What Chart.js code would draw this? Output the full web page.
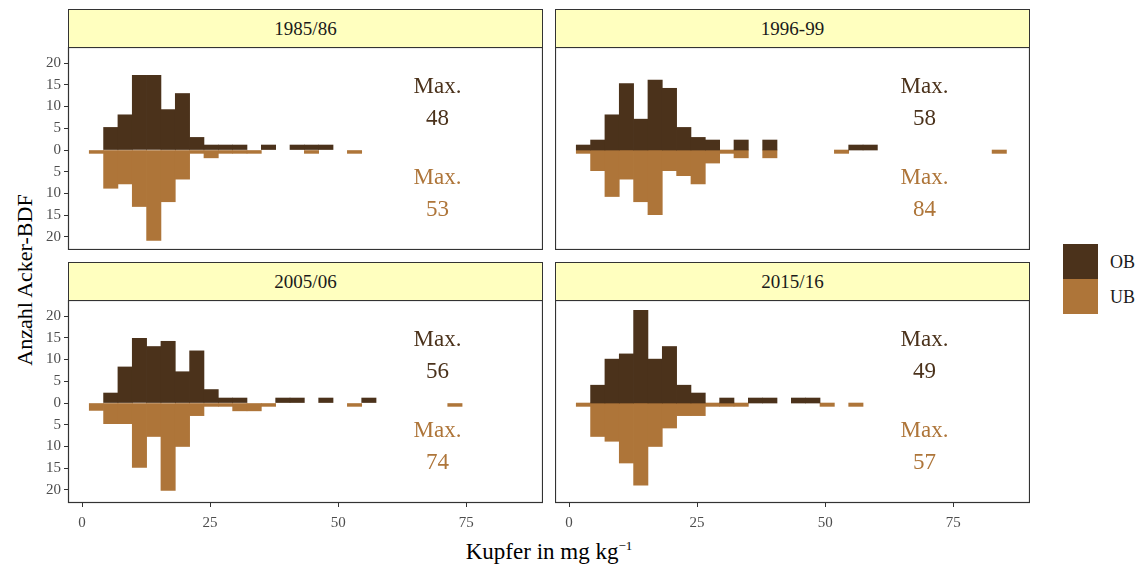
<!DOCTYPE html>
<html>
<head>
<meta charset="utf-8">
<script src="https://cdn.jsdelivr.net/npm/chart.js@4.4.1/dist/chart.umd.min.js"></script>
<style>
  html, body { margin: 0; padding: 0; background: #ffffff; }
  body { width: 1145px; height: 568px; position: relative; overflow: hidden; font-family: "Liberation Serif", "DejaVu Serif", serif; }
  canvas { position: absolute; }
  .strip { position: absolute; box-sizing: border-box; border: 1px solid #333333; background: #FFFFBF;
           color: #1a1a1a; font-size: 19px; display: flex; align-items: center; justify-content: center; }
  .ytitle { position: absolute; left: 25px; top: 280px; transform: translate(-50%, -50%) rotate(-90deg);
            white-space: nowrap; font-size: 22px; color: #000; }
  .xtitle { position: absolute; left: 549px; top: 551px; transform: translate(-50%, -50%);
            white-space: nowrap; font-size: 23px; color: #000; }
  .xtitle sup { font-size: 13px; vertical-align: 9px; }
  .key { position: absolute; left: 1063px; width: 35px; height: 35px; }
  .keylab { position: absolute; left: 1110px; font-size: 18px; color: #1a1a1a; transform: translateY(-50%); }
</style>
</head>
<body>
<div class="ytitle">Anzahl Acker-BDF</div>
<div class="xtitle">Kupfer in mg kg<sup>−1</sup></div>
<div class="key" style="top:244px; background:#4B321B;"></div>
<div class="key" style="top:279px; background:#AE7539;"></div>
<div class="keylab" style="top:262px;">OB</div>
<div class="keylab" style="top:297px;">UB</div>

<script>
// Histogram bin centres (mg/kg), shared by all four survey periods
const binCenters = [2.8, 5.6, 8.4, 11.2, 14.0, 16.8, 19.6, 22.4, 25.2, 28.0,
                    30.8, 33.6, 36.4, 39.2, 42.0, 44.8, 47.6, 50.4, 53.2, 56.0,
                    58.8, 61.6, 64.4, 67.2, 70.0, 72.8, 75.6, 78.4, 81.2, 84.0];

const periods = ["1985/86", "1996-99", "2005/06", "2015/16"];

// Oberboden (OB) counts per bin
const ob1985 = [0, 5.2, 8.1, 17.2, 17.2, 9.3, 13.0, 2.9, 1.15, 1.15, 1.15, 0, 1.15, 0, 1.15, 1.15, 1.15, 0, 0, 0, 0, 0, 0, 0, 0, 0, 0, 0, 0, 0];
const ob1996 = [1.15, 2.3, 8.1, 15.3, 7.1, 16.1, 14.2, 5.2, 2.9, 2.3, 0, 2.3, 0, 2.3, 0, 0, 0, 0, 0, 1.15, 1.15, 0, 0, 0, 0, 0, 0, 0, 0, 0];
const ob2005 = [0, 2.3, 8.3, 14.9, 13.0, 14.2, 7.2, 12.0, 3.1, 1.15, 1.15, 0, 0, 1.15, 1.15, 0, 1.15, 0, 0, 1.15, 0, 0, 0, 0, 0, 0, 0, 0, 0, 0];
const ob2015 = [0, 4.1, 10.1, 11.3, 21.3, 10.1, 13.0, 4.1, 2.3, 0, 1.15, 0, 1.15, 1.15, 0, 1.15, 1.15, 0, 0, 0, 0, 0, 0, 0, 0, 0, 0, 0, 0, 0];

// Unterboden (UB) counts per bin (drawn downwards)
const ub1985 = [0.77, 8.8, 7.8, 13.0, 20.8, 11.9, 6.7, 0.77, 1.8, 0.77, 0.77, 0.77, 0, 0, 0, 0.77, 0, 0, 0.77, 0, 0, 0, 0, 0, 0, 0, 0, 0, 0, 0];
const ub1996 = [0.77, 4.75, 10.7, 6.7, 11.9, 14.9, 4.75, 5.9, 7.8, 3.0, 0.77, 1.8, 0, 1.8, 0, 0, 0, 0, 0.77, 0, 0, 0, 0, 0, 0, 0, 0, 0, 0, 0.77];
const ub2005 = [1.7, 4.75, 4.75, 14.8, 7.7, 20.1, 10.0, 2.9, 0.77, 0.77, 1.8, 1.8, 0.77, 0, 0, 0, 0, 0, 0.77, 0, 0, 0, 0, 0, 0, 0.77, 0, 0, 0, 0];
const ub2015 = [0.77, 7.7, 8.8, 13.8, 18.9, 10.0, 5.75, 2.9, 2.9, 0.77, 0.77, 0.77, 0, 0, 0, 0, 0, 0.77, 0, 0.77, 0, 0, 0, 0, 0, 0, 0, 0, 0, 0];

// Maximum copper content per period
const maxOB = [48, 58, 56, 49];
const maxUB = [53, 84, 74, 57];

const xTicks = [0, 25, 50, 75];
const yTicks = [-20, -15, -10, -5, 0, 5, 10, 15, 20];

const OB_COLOR = "#4B321B";
const UB_COLOR = "#AE7539";
const TICK_COLOR = "#4D4D4D";
const FONT = "Liberation Serif";

const PANEL_W = 475, PANEL_H = 203, STRIP_H = 38;
const Y_AXIS_W = 38, X_AXIS_H = 32;

const layout = [
  { ob: ob1985, ub: ub1985, left: 68,  top: 47,  yAxis: true,  xAxis: false },
  { ob: ob1996, ub: ub1996, left: 555, top: 47,  yAxis: false, xAxis: false },
  { ob: ob2005, ub: ub2005, left: 68,  top: 300, yAxis: true,  xAxis: true  },
  { ob: ob2015, ub: ub2015, left: 555, top: 300, yAxis: false, xAxis: true  }
];

// Panel frame around the plotting area
const framePlugin = {
  id: "frame",
  afterDatasetsDraw(chart) {
    const a = chart.chartArea, ctx = chart.ctx;
    ctx.save();
    ctx.strokeStyle = "#333333";
    ctx.lineWidth = 1.2;
    ctx.strokeRect(Math.round(a.left) + 0.5, Math.round(a.top) + 0.5,
                   Math.round(a.right - a.left) - 1, Math.round(a.bottom - a.top) - 1);
    ctx.restore();
  }
};

// "Max." annotations for OB (above) and UB (below)
const maxPlugin = {
  id: "maxLabels",
  afterDatasetsDraw(chart, args, opts) {
    const ctx = chart.ctx, xs = chart.scales.x, ys = chart.scales.y;
    const x = xs.getPixelForValue(69.4);
    const blocks = [
      { y: ys.getPixelForValue(10.9), color: OB_COLOR, value: opts.ob },
      { y: ys.getPixelForValue(-10.0), color: UB_COLOR, value: opts.ub }
    ];
    ctx.save();
    ctx.font = "23px '" + FONT + "'";
    ctx.textAlign = "center";
    ctx.textBaseline = "middle";
    for (const b of blocks) {
      ctx.fillStyle = b.color;
      ctx.fillText("Max.", x, b.y - 16);
      ctx.fillText(String(b.value), x, b.y + 16);
    }
    ctx.restore();
  }
};

// empty bins are left out instead of drawn as zero-height bars
const toPoints = (vals, sign) => binCenters.map((x, i) => ({ x: x, y: vals[i] ? sign * vals[i] : null }));

layout.forEach((p, k) => {
  // strip with period label
  const strip = document.createElement("div");
  strip.className = "strip";
  strip.style.left = p.left + "px";
  strip.style.top = (p.top - STRIP_H) + "px";
  strip.style.width = PANEL_W + "px";
  strip.style.height = (STRIP_H + 1) + "px";
  strip.textContent = periods[k];
  document.body.appendChild(strip);

  const canvas = document.createElement("canvas");
  const w = PANEL_W + (p.yAxis ? Y_AXIS_W : 0);
  const h = PANEL_H + (p.xAxis ? X_AXIS_H : 0);
  canvas.width = w; canvas.height = h;
  canvas.style.width = w + "px"; canvas.style.height = h + "px";
  canvas.style.left = (p.left - (p.yAxis ? Y_AXIS_W : 0)) + "px";
  canvas.style.top = p.top + "px";
  document.body.appendChild(canvas);

  new Chart(canvas, {
    type: "bar",
    data: {
      datasets: [
        { label: "OB", data: toPoints(p.ob, 1), backgroundColor: OB_COLOR },
        { label: "UB", data: toPoints(p.ub, -1), backgroundColor: UB_COLOR }
      ]
    },
    options: {
      responsive: false,
      maintainAspectRatio: false,
      animation: false,
      events: [],
      devicePixelRatio: 1,
      layout: { padding: 0 },
      datasets: { bar: { barPercentage: 1, categoryPercentage: 1, borderWidth: 0 } },
      plugins: {
        legend: { display: false },
        tooltip: { enabled: false },
        maxLabels: { ob: maxOB[k], ub: maxUB[k] }
      },
      scales: {
        x: {
          type: "linear", min: -2.75, max: 90, stacked: true, offset: false,
          display: p.xAxis,
          afterFit: s => {
            if (p.xAxis) s.height = X_AXIS_H;
            s.paddingLeft = 0; s.paddingRight = 0;
          },
          afterBuildTicks: s => { s.ticks = xTicks.map(v => ({ value: v })); },
          border: { display: false },
          grid: { offset: false, drawOnChartArea: false, drawTicks: true, tickLength: 4, tickColor: "#333333", tickWidth: 1 },
          ticks: { padding: 7, color: TICK_COLOR, font: { family: FONT, size: 15 }, maxRotation: 0, autoSkip: false }
        },
        y: {
          min: -23.0, max: 23.7, stacked: true,
          display: p.yAxis,
          afterFit: s => {
            if (p.yAxis) s.width = Y_AXIS_W;
            s.paddingTop = 0; s.paddingBottom = 0;
          },
          afterBuildTicks: s => { s.ticks = yTicks.map(v => ({ value: v })); },
          border: { display: false },
          grid: { drawOnChartArea: false, drawTicks: true, tickLength: 4, tickColor: "#333333", tickWidth: 1 },
          ticks: { padding: 3, color: TICK_COLOR, font: { family: FONT, size: 15 }, autoSkip: false,
                   callback: v => String(Math.abs(v)) }
        }
      }
    },
    plugins: [framePlugin, maxPlugin]
  });
});
</script>
</body>
</html>
